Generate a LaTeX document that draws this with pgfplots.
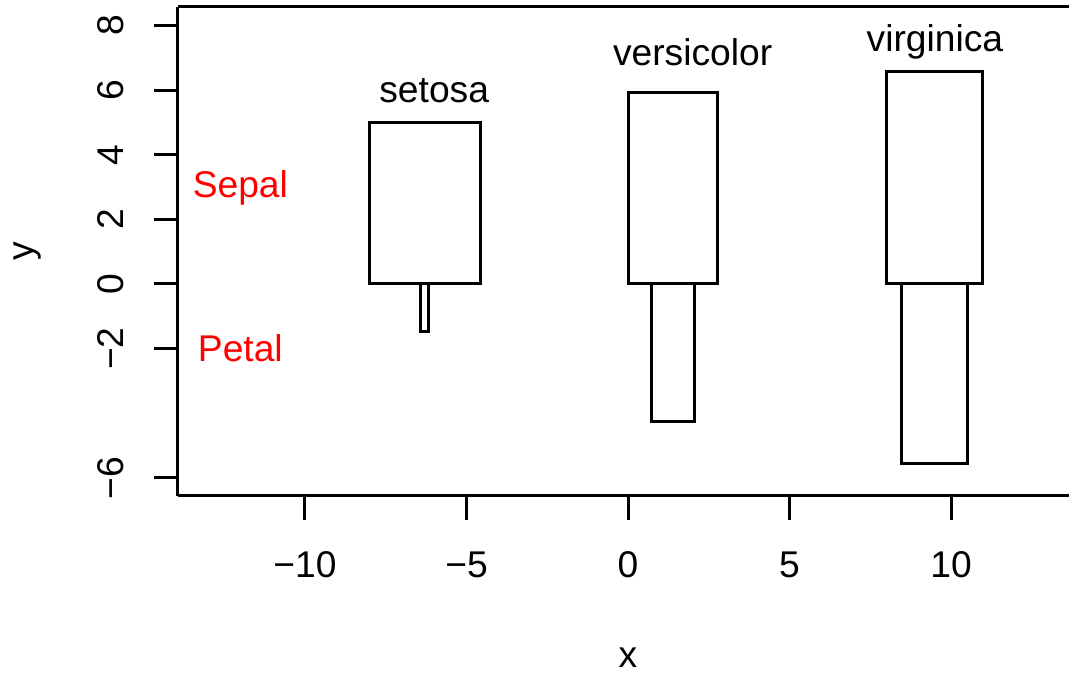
\documentclass[border=0pt]{standalone}
\usepackage{pgfplots}
\pgfplotsset{compat=1.18}
\usepackage{fontspec}
\setmainfont{Liberation Sans}
\begin{document}
\begin{tikzpicture}[font=\fontsize{12.4}{14}\selectfont]
\begin{axis}[
  name=ax,
  scale only axis,
  width=297pt, height=163pt,
  xmin=-13.93, xmax=13.65, ymin=-6.56, ymax=8.57,
  axis x line*=bottom, axis y line*=left,
  axis line style={-, line width=1pt, black},
  tick align=outside,
  major tick length=8pt,
  tick style={black, line width=1pt},
  xtick={-10,-5,0,5,10},
  xticklabels={−10,−5,0,5,10},
  ytick={-6,-2,0,2,4,6,8},
  yticklabels={−6,−2,0,2,4,6,8},
  xticklabel style={anchor=north, inner sep=0pt},
  yticklabel style={rotate=90, anchor=south, inner sep=0pt},
  xticklabel shift=10.3pt,
  yticklabel shift=9.8pt,
  clip=false,
]
% setosa
\addplot[black, line width=1pt, line cap=rect, line join=miter] coordinates {(-8,0) (-4.572,0) (-4.572,5.006) (-8,5.006) (-8,0)};
\addplot[black, line width=1pt, line cap=rect, line join=miter] coordinates {(-6.409,0) (-6.163,0) (-6.163,-1.462) (-6.409,-1.462) (-6.409,0)};
% versicolor
\addplot[black, line width=1pt, line cap=rect, line join=miter] coordinates {(0,0) (2.770,0) (2.770,5.936) (0,5.936) (0,0)};
\addplot[black, line width=1pt, line cap=rect, line join=miter] coordinates {(0.722,0) (2.048,0) (2.048,-4.260) (0.722,-4.260) (0.722,0)};
% virginica
\addplot[black, line width=1pt, line cap=rect, line join=miter] coordinates {(8,0) (10.974,0) (10.974,6.588) (8,6.588) (8,0)};
\addplot[black, line width=1pt, line cap=rect, line join=miter] coordinates {(8.474,0) (10.500,0) (10.500,-5.552) (8.474,-5.552) (8.474,0)};
% top border
\draw[black, line width=1pt] (rel axis cs:0,1) -- (rel axis cs:1,1);
% species labels
\node[anchor=base, inner sep=0pt] at (axis cs:-6.0,5.60) {setosa};
\node[anchor=base, inner sep=0pt] at (axis cs:2.0,6.77) {versicolor};
\node[anchor=base, inner sep=0pt] at (axis cs:9.5,7.18) {virginica};
\node[anchor=base, inner sep=0pt, text=red] at (axis cs:-12,2.68) {Sepal};
\node[anchor=base, inner sep=0pt, text=red] at (axis cs:-12,-2.41) {Petal};
% axis titles
\node[anchor=base, inner sep=0pt] at ([yshift=-57.3pt]axis cs:0,-6.56) {x};
\node[rotate=90, anchor=south, inner sep=0pt] at ([xshift=-45.3pt]rel axis cs:0,0.5) {y};
\end{axis}
\pgfresetboundingbox
\path[use as bounding box] ([xshift=-59.33pt,yshift=-59pt]ax.south west) rectangle ([yshift=2.33pt]ax.north east);
\end{tikzpicture}
\end{document}
